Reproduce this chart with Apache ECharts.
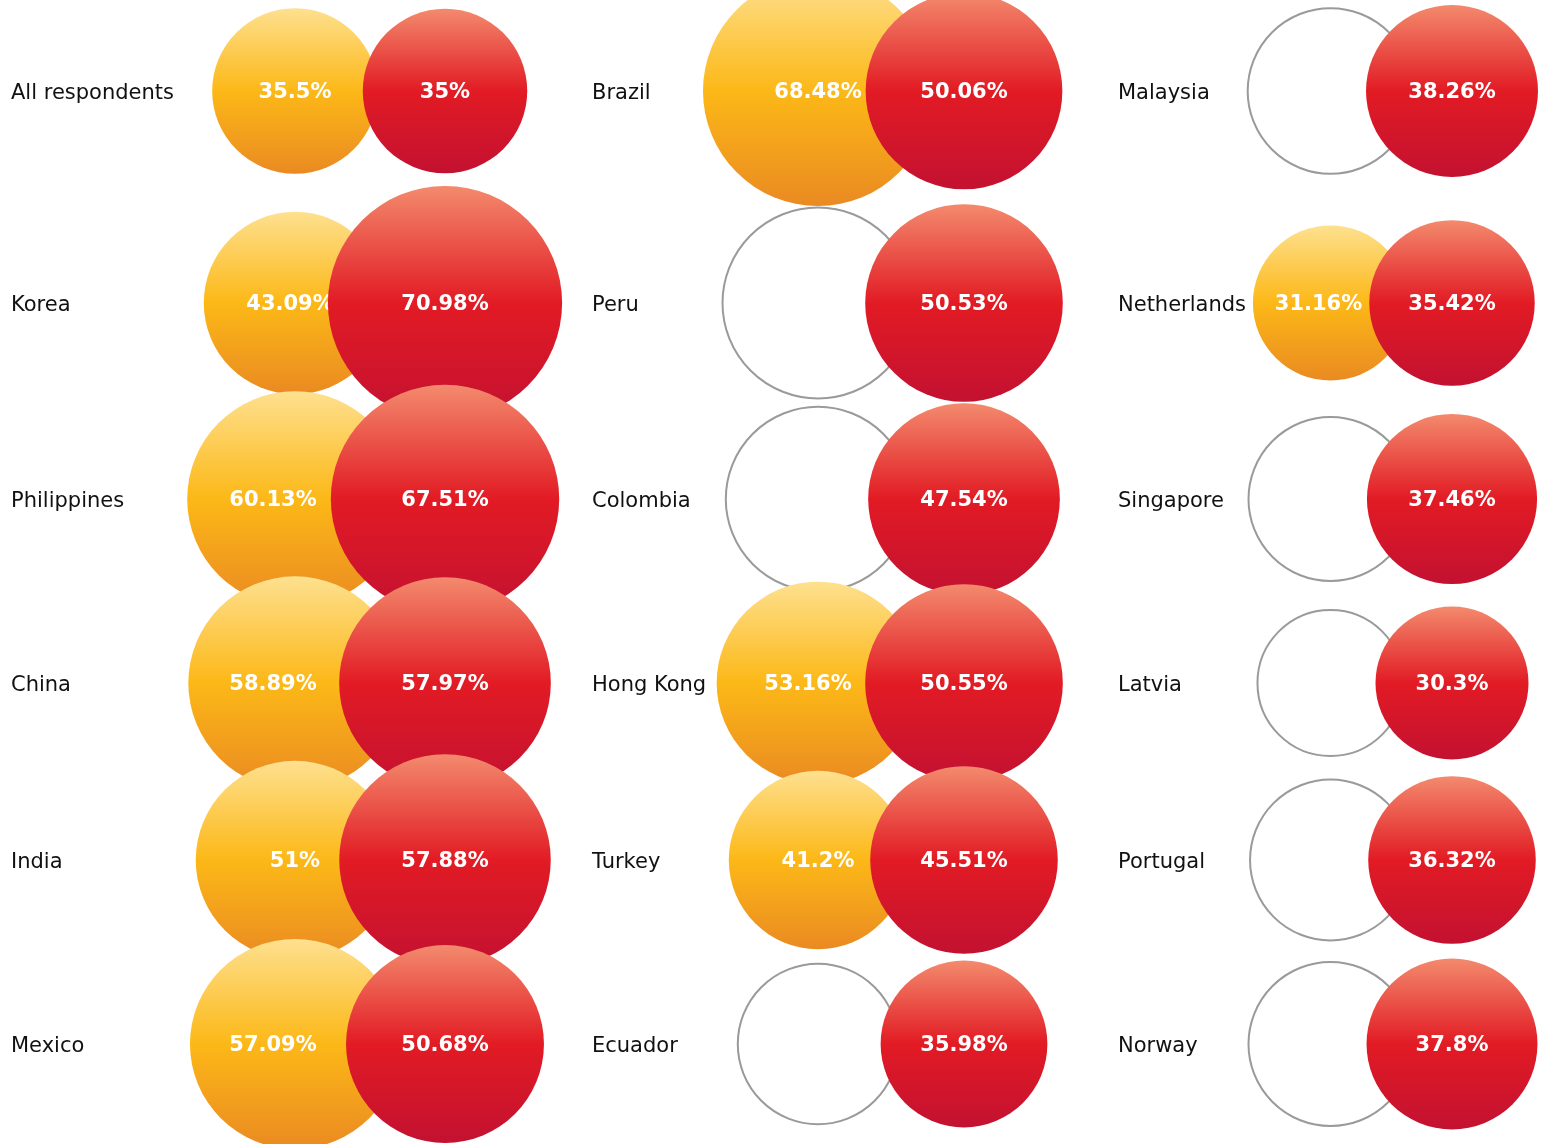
<!DOCTYPE html>
<html><head><meta charset="utf-8">
<script src="https://cdn.jsdelivr.net/npm/echarts@6/dist/echarts.min.js"></script>
<style>html,body{margin:0;padding:0;background:#fff}#c{width:1544px;height:1144px}</style>
</head><body><div id="c"></div>
<script>
// ---- data (column by column, top to bottom) ----
const countries = ['All respondents','Korea','Philippines','China','India','Mexico',
                   'Brazil','Peru','Colombia','Hong Kong','Turkey','Ecuador',
                   'Malaysia','Netherlands','Singapore','Latvia','Portugal','Norway'];
const orangeValues = [35.5, 43.09, 60.13, 58.89, 51, 57.09,
                      68.48, null, null, 53.16, 41.2, null,
                      null, 31.16, null, null, null, null];
const redValues = [35, 70.98, 67.51, 57.97, 57.88, 50.68,
                   50.06, 50.53, 47.54, 50.55, 45.51, 35.98,
                   38.26, 35.42, 37.46, 30.3, 36.32, 37.8];
// sizes of the empty (no value shown) outline circles
const outlineValues = [null, null, null, null, null, null,
                       null, 47.2, 44, null, null, 33.3,
                       35.5, null, 34.8, 27.6, 33.5, 34.8];
const pairNames = ['Orange', 'Red'];

// ---- layout / style ----
const colOrangeX = [295, 818, 1330.5];
const colRedX = [445, 964, 1452];
const labelX = [11, 592, 1118];
const rowY = [91, 303, 499, 683, 860, 1044];
const orangeLabelDx = [0, -5, -22, -22, 0, -22,
                       0, 0, 0, -10, 0, 0,
                       0, -12, 0, 0, 0, 0];
const RADIUS_PER_SQRT = 13.9;
const size = v => 2 * RADIUS_PER_SQRT * Math.sqrt(v);
const font = '"DejaVu Sans", Verdana, sans-serif';

const chart = echarts.init(document.getElementById('c'), null, {renderer: 'canvas'});
const orangeGrad = new echarts.graphic.LinearGradient(0, 0, 0, 1, [
  {offset: 0, color: '#fee08f'}, {offset: 0.5, color: '#fcb817'}, {offset: 1, color: '#ea8a22'}]);
const redGrad = new echarts.graphic.LinearGradient(0, 0, 0, 1, [
  {offset: 0, color: '#f38a6d'}, {offset: 0.5, color: '#e21b24'}, {offset: 1, color: '#c31131'}]);

const grids = [], xAxes = [], yAxes = [], series = [];
const valueLabel = (dx) => ({
  show: true, position: 'inside', offset: [dx, 2],
  color: '#fff', fontWeight: 'bold', fontSize: 21, fontFamily: font,
  formatter: p => p.value[2] + '%'
});

for (let r = 0; r < 6; r++) {
  for (let c = 0; c < 3; c++) {
    const i = c * 6 + r;
    const g = grids.length;
    const s = colRedX[c] - colOrangeX[c];
    const left = colOrangeX[c] - s / 2;
    grids.push({left: left, width: 2 * s, top: rowY[r] - 40, height: 80, outerBoundsMode: 'none'});
    xAxes.push({type: 'category', gridIndex: g, data: pairNames, boundaryGap: true, show: false});
    yAxes.push({
      type: 'category', gridIndex: g, data: [countries[i]],
      axisLine: {show: false}, axisTick: {show: false}, splitLine: {show: false},
      axisLabel: {
        align: 'left', margin: left - labelX[c],
        formatter: v => '{n|' + v + '}',
        rich: {n: {fontSize: 21, color: '#111', fontFamily: font, padding: [6, 0, 0, 0]}}
      }
    });
    const hasO = orangeValues[i] != null;
    series.push({
      type: 'scatter', name: 'Orange', xAxisIndex: g, yAxisIndex: g, z: 10 + 2 * g, silent: true,
      data: [[0, 0, hasO ? orangeValues[i] : outlineValues[i]]],
      symbolSize: d => size(d[2]),
      itemStyle: hasO ? {color: orangeGrad, opacity: 1}
                      : {color: '#fff', borderColor: '#9a9a9a', borderWidth: 2, opacity: 1},
      label: hasO ? valueLabel(orangeLabelDx[i]) : {show: false}
    });
    series.push({
      type: 'scatter', name: 'Red', xAxisIndex: g, yAxisIndex: g, z: 11 + 2 * g, silent: true,
      data: [[1, 0, redValues[i]]],
      symbolSize: d => size(d[2]),
      itemStyle: {color: redGrad, opacity: 1},
      label: valueLabel(0)
    });
  }
}

chart.setOption({
  animation: false,
  backgroundColor: '#fff',
  grid: grids, xAxis: xAxes, yAxis: yAxes, series: series
});
</script>
</body></html>
